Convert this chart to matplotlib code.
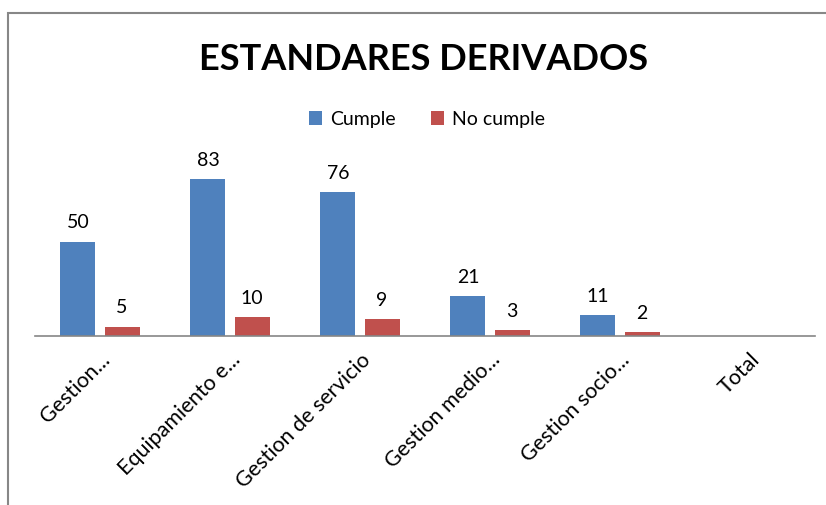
import matplotlib
matplotlib.use("Agg")
import matplotlib.pyplot as plt
from matplotlib.patches import Rectangle
import numpy as np

categories = ["Gestion...", "Equipamiento e...", "Gestion de servicio", "Gestion medio...", "Gestion socio...", "Total"]
cumple = [50, 83, 76, 21, 11, None]
no_cumple = [5, 10, 9, 3, 2, None]

W, H = 826, 506
fig = plt.figure(figsize=(W / 100, H / 100), dpi=100)
plt.rcParams['font.family'] = ['Lato', 'DejaVu Sans']

# outer chart border
fig.patches.append(Rectangle((8 / W, -0.1), 1.2, 1 - 14 / H + 0.1, transform=fig.transFigure,
                             fill=False, edgecolor="#878787", linewidth=1.5))

# axes in pixel coords
x0, x1 = 35, 815
yb, yt = 337, 337 - 90 * 1.89
ax = fig.add_axes([x0 / W, 1 - yb / H, (x1 - x0) / W, (yb - yt) / H])
ax.set_xlim(-0.5, len(categories) - 0.5)
ax.set_ylim(0, 90)

x = np.arange(len(categories))
bw = 0.27
off = 0.17
blue = "#4F81BD"
red = "#C0504D"
for i in range(len(categories)):
    if cumple[i] is not None:
        ax.bar(x[i] - off, cumple[i], bw, color=blue, label="Cumple" if i == 0 else None)
        ax.text(x[i] - off, cumple[i] + 6, str(cumple[i]), ha="center", va="bottom", fontsize=14)
    if no_cumple[i] is not None:
        ax.bar(x[i] + off, no_cumple[i], bw, color=red, label="No cumple" if i == 0 else None)
        ax.text(x[i] + off, no_cumple[i] + 6, str(no_cumple[i]), ha="center", va="bottom", fontsize=14)

for s in ["left", "right", "top"]:
    ax.spines[s].set_visible(False)
ax.spines["bottom"].set_color("#868686")
ax.spines["bottom"].set_linewidth(1.2)
ax.set_yticks([])
ax.set_xticks(x)
ax.set_xticklabels(categories, rotation=45, ha="right", rotation_mode="anchor", fontsize=15.5)
ax.tick_params(axis="x", length=0, pad=9)

fig.text(424 / W, 1 - 60 / H, "ESTANDARES DERIVADOS", ha="center", va="center",
         fontsize=26, fontweight="bold")

fig.legend(loc="center", bbox_to_anchor=(427 / W, 1 - 120 / H), ncol=2, frameon=False,
           fontsize=14, handlelength=0.7, handleheight=0.7, columnspacing=1.8, handletextpad=0.4)

fig.savefig("out.png", dpi=100)
